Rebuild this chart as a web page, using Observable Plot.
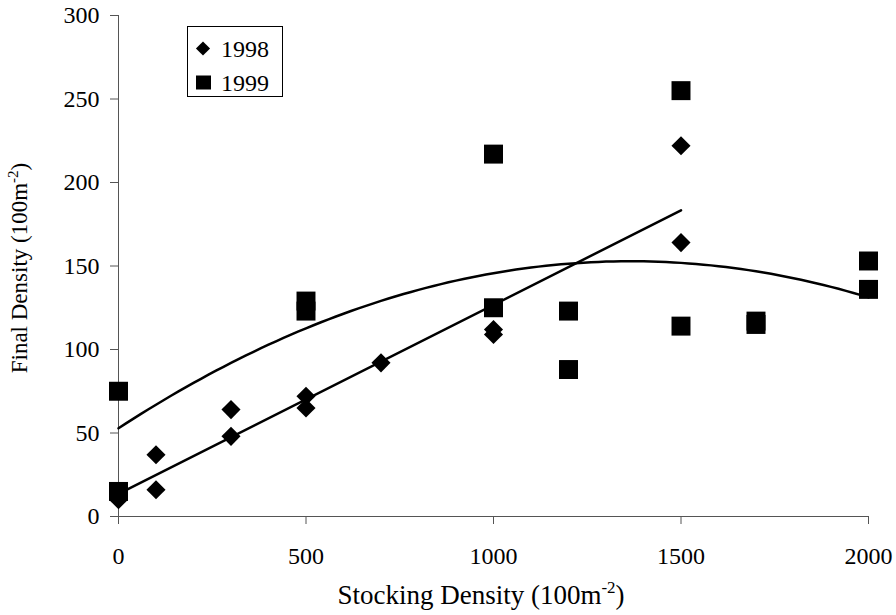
<!DOCTYPE html>
<html><head><meta charset="utf-8">
<script src="https://cdn.jsdelivr.net/npm/d3@7"></script>
<script src="https://cdn.jsdelivr.net/npm/@observablehq/plot@0.6"></script>
<style>body{margin:0;background:#fff} svg text{font-family:'Liberation Serif','Times New Roman',serif;}</style>
</head><body><div id="chart"></div>
<script>
// ---- data ----
const stocking1998 = [0, 100, 100, 300, 300, 500, 500, 700, 1000, 1000, 1500, 1500];
const final1998    = [10, 37, 16, 64, 48, 72, 65, 92, 112, 109, 222, 164];
const stocking1999 = [0, 0, 500, 500, 1000, 1000, 1200, 1200, 1500, 1500, 1700, 1700, 2000, 2000];
const final1999    = [15, 75, 129, 123, 217, 125, 123, 88, 255, 114, 117, 115, 153, 136];
const seriesNames = ["1998", "1999"];
const xTicks = [0, 500, 1000, 1500, 2000];
const yTicks = [0, 50, 100, 150, 200, 250, 300];

const d98 = stocking1998.map((x, i) => ({x, y: final1998[i]}));
const d99 = stocking1999.map((x, i) => ({x, y: final1999[i]}));

// quadratic least-squares trendline for 1999 (like a spreadsheet polynomial trendline)
function quadFit(data) {
  const S = k => d3.sum(data, d => Math.pow(d.x, k));
  const T = k => d3.sum(data, d => Math.pow(d.x, k) * d.y);
  const A = [[S(0), S(1), S(2), T(0)], [S(1), S(2), S(3), T(1)], [S(2), S(3), S(4), T(2)]];
  for (let i = 0; i < 3; i++) {
    for (let j = i + 1; j < 3; j++) {
      const f = A[j][i] / A[i][i];
      for (let k = i; k < 4; k++) A[j][k] -= f * A[i][k];
    }
  }
  const c = [0, 0, 0];
  for (let i = 2; i >= 0; i--) {
    let s = A[i][3];
    for (let k = i + 1; k < 3; k++) s -= A[i][k] * c[k];
    c[i] = s / A[i][i];
  }
  return x => c[0] + c[1] * x + c[2] * x * x;
}
const f99 = quadFit(d99);
const [x0, x1] = d3.extent(stocking1999);
const curve99 = d3.range(x0, x1 + 1, 20).map(x => ({x, y: f99(x)}));

const font = "'Liberation Serif', 'Times New Roman', serif";
const axisColor = "#555";

const chart = Plot.plot({
  width: 896, height: 615,
  marginLeft: 118, marginRight: 28, marginTop: 15, marginBottom: 99,
  style: {fontFamily: font, fontSize: "24px", background: "#fff", color: "#000"},
  x: {domain: [0, 2000]},
  y: {domain: [0, 300]},
  marks: [
    Plot.axisX({ticks: xTicks, tickSize: 8, tickPadding: 22, label: null, tickFormat: d3.format("d"),
      stroke: axisColor, fill: "#000", fontSize: 24, fontFamily: font}),
    Plot.axisY({ticks: yTicks, tickSize: 8, tickPadding: 11, label: null, tickFormat: d3.format("d"),
      stroke: axisColor, fill: "#000", fontSize: 24, fontFamily: font}),
    Plot.ruleY([0], {stroke: axisColor}),
    Plot.ruleX([0], {stroke: axisColor}),
    Plot.linearRegressionY(d98, {x: "x", y: "y", ci: 0, stroke: "#000", strokeWidth: 2.5}),
    Plot.line(curve99, {x: "x", y: "y", stroke: "#000", strokeWidth: 2.5, curve: "linear"}),
    Plot.dot(d99, {x: "x", y: "y", symbol: "square", r: 10.7, fill: "#000", stroke: "none"}),
    Plot.dot(d98, {x: "x", y: "y", symbol: "diamond2", r: 8.6, fill: "#000", stroke: "none"})
  ]
});
document.getElementById("chart").appendChild(chart);

const svg = d3.select(chart);
// axis titles with superscripts
const xt = svg.append("text").attr("x", 481).attr("y", 604).attr("text-anchor", "middle")
  .attr("font-family", font).attr("font-size", 27).attr("fill", "#000");
xt.append("tspan").text("Stocking Density (100m");
xt.append("tspan").attr("dy", -11).attr("font-size", 17).text("-2");
xt.append("tspan").attr("dy", 11).text(")");

const yt = svg.append("text").attr("transform", "translate(27,268) rotate(-90)").attr("text-anchor", "middle")
  .attr("font-family", font).attr("font-size", 23).attr("fill", "#000");
yt.append("tspan").text("Final Density (100m");
yt.append("tspan").attr("dy", -9).attr("font-size", 15).text("-2");
yt.append("tspan").attr("dy", 9).text(")");

// legend
const lg = svg.append("g");
lg.append("rect").attr("x", 187.5).attr("y", 26.5).attr("width", 95).attr("height", 70)
  .attr("fill", "#fff").attr("stroke", "#000").attr("stroke-width", 1);
lg.append("path").attr("transform", "translate(203,48.5)")
  .attr("d", d3.symbol(d3.symbolDiamond2, 128)()).attr("fill", "#000");
lg.append("rect").attr("x", 196).attr("y", 75.5).attr("width", 15).attr("height", 14).attr("fill", "#000");
lg.selectAll("text.lg").data(seriesNames).join("text")
  .attr("x", 221).attr("y", (d, i) => 57 + i * 34).attr("text-anchor", "start")
  .attr("font-family", font).attr("font-size", 24).attr("fill", "#000").text(d => d);
</script>
</body></html>
